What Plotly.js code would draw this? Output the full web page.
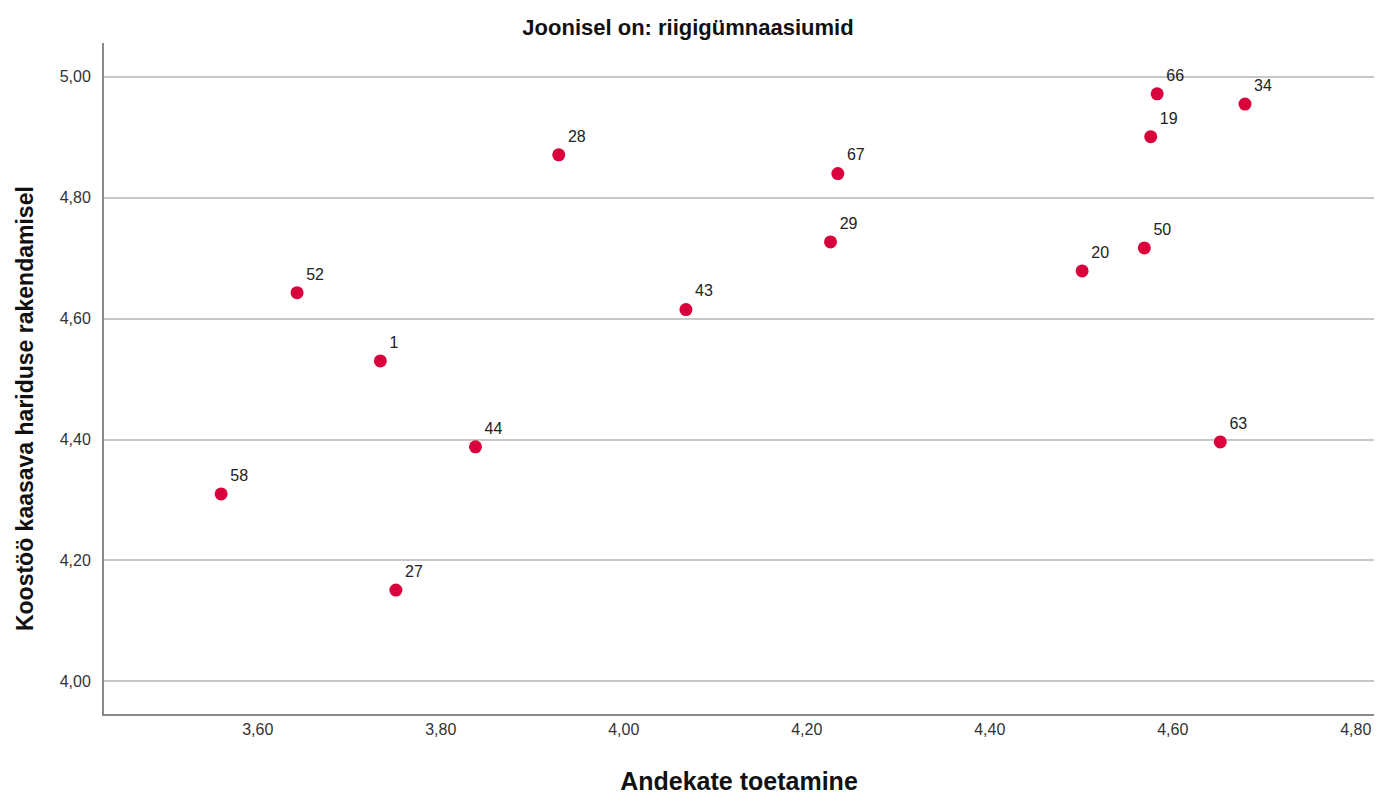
<!DOCTYPE html>
<html>
<head>
<meta charset="utf-8">
<script src="https://cdn.plot.ly/plotly-3.0.1.min.js"></script>
<style>html,body{margin:0;padding:0;background:#fff;}#chart{width:1376px;height:795px;}</style>
</head>
<body>
<div id="chart"></div>
<script>
const schoolIds = ["58","52","1","27","44","28","43","29","67","20","50","19","66","34","63"];
const andekateToetamine = [3.560,3.643,3.734,3.751,3.838,3.929,4.068,4.226,4.234,4.501,4.569,4.576,4.583,4.679,4.652];
const koostooKaasav = [4.310,4.643,4.530,4.151,4.388,4.871,4.615,4.727,4.840,4.679,4.717,4.901,4.972,4.955,4.396];
const xTicks = [3.6,3.8,4.0,4.2,4.4,4.6,4.8];
const yTicks = [4.0,4.2,4.4,4.6,4.8,5.0];

const fontFam = 'Arial, "Liberation Sans", sans-serif';

const trace = {
  x: andekateToetamine,
  y: koostooKaasav,
  text: schoolIds,
  mode: 'markers+text',
  type: 'scatter',
  textposition: 'top right',
  textfont: {family: fontFam, size: 16, color: '#222'},
  marker: {color: '#d9003b', size: 13},
  hoverinfo: 'x+y+text'
};

const layout = {
  width: 1376, height: 795,
  margin: {l: 104, r: 2, t: 43, b: 81},
  paper_bgcolor: '#fff', plot_bgcolor: '#fff',
  separators: ', ',
  showlegend: false,
  title: {text: '<b>Joonisel on: riigigümnaasiumid</b>', font: {family: fontFam, size: 22, color: '#111'}, x: 0.5, xanchor: 'center', y: 0.966, yanchor: 'middle'},
  xaxis: {
    range: [3.432, 4.82],
    tickvals: xTicks,
    tickformat: '.2f',
    showgrid: false, zeroline: false,
    showline: true, linecolor: '#8a8a8a', linewidth: 2,
    ticks: '', ticklen: 0,
    tickfont: {family: fontFam, size: 16, color: '#333'},
    title: {text: '<b>Andekate toetamine</b>', font: {family: fontFam, size: 25, color: '#111'}, standoff: 36}
  },
  yaxis: {
    range: [3.946, 5.056],
    tickvals: yTicks,
    tickformat: '.2f',
    showgrid: true, gridcolor: '#c8c8c8', gridwidth: 2,
    zeroline: false,
    showline: true, linecolor: '#8a8a8a', linewidth: 2,
    ticks: '', ticklabelstandoff: 8,
    tickfont: {family: fontFam, size: 16, color: '#333'}
  },
  annotations: [{
    text: '<b>Koostöö kaasava hariduse rakendamisel</b>',
    xref: 'paper', yref: 'paper', x: -0.0622, y: 0.4545,
    xanchor: 'center', yanchor: 'middle', textangle: -90, showarrow: false,
    font: {family: fontFam, size: 23, color: '#111'}
  }]
};

Plotly.newPlot('chart', [trace], layout, {displayModeBar: false, responsive: false});
</script>
</body>
</html>
